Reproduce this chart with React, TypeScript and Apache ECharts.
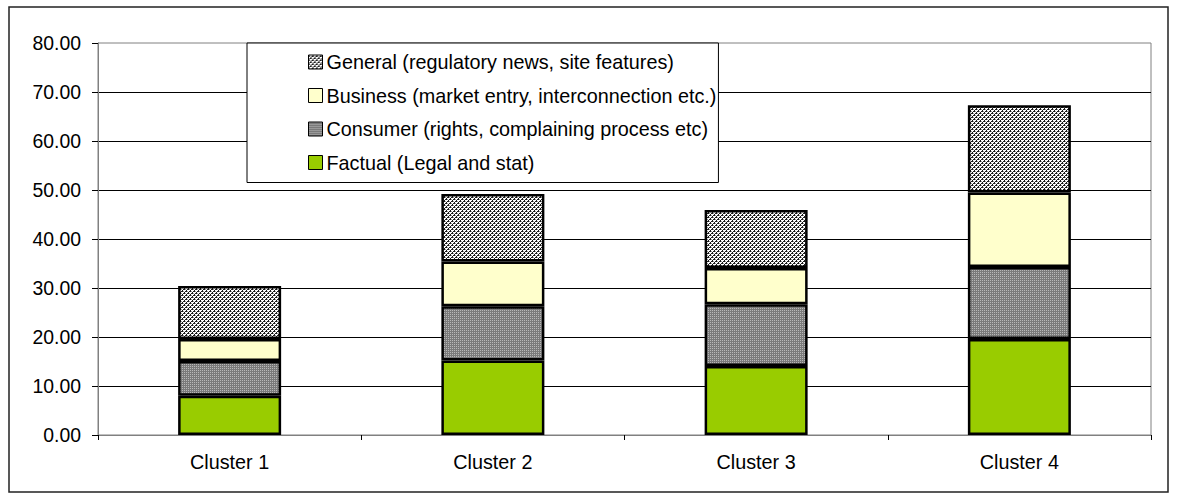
import React, { useEffect, useRef } from "react";
import * as echarts from "echarts";

const categories = ["Cluster 1", "Cluster 2", "Cluster 3", "Cluster 4"];
const factual = [8.0, 15.2, 14.1, 19.6];
const consumer = [7.1, 11.1, 12.6, 14.7];
const business = [4.5, 9.1, 7.4, 15.2];
const general = [10.8, 13.8, 11.8, 17.8];
const seriesNames = [
  "Factual (Legal and stat)",
  "Consumer (rights, complaining process etc)",
  "Business (market entry, interconnection etc.)",
  "General (regulatory news, site features)",
];

function makePattern(kind: "general" | "consumer") {
  const c = document.createElement("canvas");
  c.width = 4;
  c.height = 4;
  const ctx = c.getContext("2d")!;
  for (let x = 0; x < 4; x++) {
    for (let y = 0; y < 4; y++) {
      let col: string;
      if (kind === "general") {
        const d = (x + y) % 4;
        col = d === 0 || (d === 1 && x % 2 === 0) ? "#1a1a1a" : "#ffffff";
        if (d === 2 && x % 2 === 1) col = "#9a9a9a";
      } else {
        col = x % 2 === 0 && y % 2 === 0 ? "#b8b8b8" : "#7a7a7a";
      }
      ctx.fillStyle = col;
      ctx.fillRect(x, y, 1, 1);
    }
  }
  return { image: c, repeat: "repeat", imageWidth: 4, imageHeight: 4 } as any;
}

export default function App() {
  const ref = useRef<HTMLDivElement>(null);
  useEffect(() => {
    document.body.style.margin = "0";
    const chart = echarts.init(ref.current!, null, { renderer: "svg" });
    const font = "'Liberation Sans', Arial, sans-serif";
    const generalFill = makePattern("general");
    const consumerFill = makePattern("consumer");
    const fills = ["#99CC00", consumerFill, "#FFFFCC", generalFill];
    const datas = [factual, consumer, business, general];
    chart.setOption({
      animation: false,
      backgroundColor: "#ffffff",
      textStyle: { fontFamily: font },
      graphic: [
        {
          type: "rect",
          shape: { x: 9, y: 7, width: 1159, height: 485 },
          style: { fill: "none", stroke: "#222", lineWidth: 1.5 },
          z: -10,
          silent: true,
        },
      ],
      grid: {
        left: 98,
        right: 26,
        top: 43,
        bottom: 65,
        show: true,
        borderColor: "#808080",
        borderWidth: 1,
        backgroundColor: "transparent",
      },
      legend: {
        orient: "vertical",
        left: 247,
        top: 43,
        data: [seriesNames[3], seriesNames[2], seriesNames[1], seriesNames[0]],
        backgroundColor: "#ffffff",
        borderColor: "#000000",
        borderWidth: 1,
        padding: [9, 2, 10, 61],
        itemWidth: 14,
        itemHeight: 14,
        itemGap: 13.5,
        icon: "rect",
        itemStyle: { borderColor: "#000", borderWidth: 1 },
        textStyle: { fontFamily: font, fontSize: 19.8, color: "#000", lineHeight: 20, padding: [0, 0, 0, -1] },
        selectedMode: false,
      },
      xAxis: {
        type: "category",
        data: categories,
        axisLine: { lineStyle: { color: "#808080", width: 1 } },
        axisTick: { show: true, length: 5, lineStyle: { color: "#000" } },
        axisLabel: { fontFamily: font, fontSize: 19.8, color: "#000", margin: 17 },
      },
      yAxis: {
        type: "value",
        min: 0,
        max: 80,
        interval: 10,
        axisLine: { show: true, lineStyle: { color: "#808080", width: 1 } },
        axisTick: { show: true, length: 6, lineStyle: { color: "#000" } },
        axisLabel: {
          fontFamily: font,
          fontSize: 19.4,
          color: "#000",
          margin: 17,
          formatter: (v: number) => v.toFixed(2),
        },
        splitLine: { show: true, showMaxLine: false, showMinLine: false, lineStyle: { color: "#000", width: 1 } },
      },
      series: datas.map((d, i) => ({
        name: seriesNames[i],
        type: "bar",
        stack: "total",
        data: d,
        barWidth: 103,
        itemStyle: { color: fills[i], borderColor: "#000", borderWidth: 2.5 },
      })),
    });
    return () => chart.dispose();
  }, []);
  return <div ref={ref} style={{ width: 1177, height: 500 }} />;
}
